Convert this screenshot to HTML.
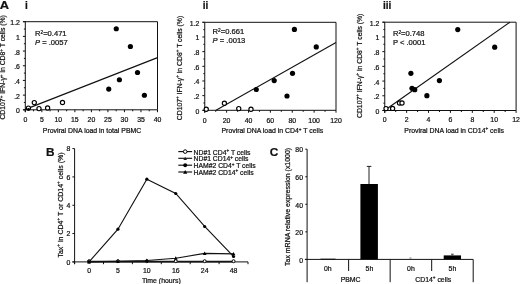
<!DOCTYPE html>
<html><head><meta charset="utf-8"><style>
html,body{margin:0;padding:0;background:#fff;width:520px;height:284px;overflow:hidden}
svg{display:block;filter:grayscale(1)}
text{font-family:"Liberation Sans",sans-serif;fill:#111;stroke:#111;stroke-width:0.22px}
</style></head><body>
<svg width="520" height="284" viewBox="0 0 520 284">
<rect width="520" height="284" fill="#fff"/>
<line x1="23.10" y1="21.70" x2="157.50" y2="21.70" stroke="#111" stroke-width="1.0"/>
<line x1="157.50" y1="21.70" x2="157.50" y2="109.80" stroke="#111" stroke-width="1.0"/>
<line x1="25.30" y1="21.70" x2="25.30" y2="112.10" stroke="#111" stroke-width="1.0"/>
<line x1="23.10" y1="109.80" x2="157.50" y2="109.80" stroke="#111" stroke-width="1.0"/>
<line x1="22.90" y1="109.80" x2="25.30" y2="109.80" stroke="#111" stroke-width="1.0"/>
<line x1="23.90" y1="102.46" x2="25.30" y2="102.46" stroke="#111" stroke-width="1.0"/>
<line x1="22.90" y1="95.12" x2="25.30" y2="95.12" stroke="#111" stroke-width="1.0"/>
<line x1="23.90" y1="87.78" x2="25.30" y2="87.78" stroke="#111" stroke-width="1.0"/>
<line x1="22.90" y1="80.43" x2="25.30" y2="80.43" stroke="#111" stroke-width="1.0"/>
<line x1="23.90" y1="73.09" x2="25.30" y2="73.09" stroke="#111" stroke-width="1.0"/>
<line x1="22.90" y1="65.75" x2="25.30" y2="65.75" stroke="#111" stroke-width="1.0"/>
<line x1="23.90" y1="58.41" x2="25.30" y2="58.41" stroke="#111" stroke-width="1.0"/>
<line x1="22.90" y1="51.07" x2="25.30" y2="51.07" stroke="#111" stroke-width="1.0"/>
<line x1="23.90" y1="43.72" x2="25.30" y2="43.72" stroke="#111" stroke-width="1.0"/>
<line x1="22.90" y1="36.38" x2="25.30" y2="36.38" stroke="#111" stroke-width="1.0"/>
<line x1="23.90" y1="29.04" x2="25.30" y2="29.04" stroke="#111" stroke-width="1.0"/>
<line x1="22.90" y1="21.70" x2="25.30" y2="21.70" stroke="#111" stroke-width="1.0"/>
<text x="19.90" y="113.30" font-size="6.9" text-anchor="end" >0</text>
<text x="19.90" y="98.62" font-size="6.9" text-anchor="end" >.2</text>
<text x="19.90" y="83.93" font-size="6.9" text-anchor="end" >.4</text>
<text x="19.90" y="69.25" font-size="6.9" text-anchor="end" >.6</text>
<text x="19.90" y="54.57" font-size="6.9" text-anchor="end" >.8</text>
<text x="19.90" y="39.88" font-size="6.9" text-anchor="end" >1</text>
<text x="19.90" y="25.20" font-size="6.9" text-anchor="end" >1.2</text>
<line x1="25.30" y1="109.80" x2="25.30" y2="112.20" stroke="#111" stroke-width="1.0"/>
<text x="25.30" y="121.80" font-size="6.9" text-anchor="middle" >0</text>
<line x1="33.56" y1="109.80" x2="33.56" y2="111.30" stroke="#111" stroke-width="1.0"/>
<line x1="41.83" y1="109.80" x2="41.83" y2="112.20" stroke="#111" stroke-width="1.0"/>
<text x="41.83" y="121.80" font-size="6.9" text-anchor="middle" >5</text>
<line x1="50.09" y1="109.80" x2="50.09" y2="111.30" stroke="#111" stroke-width="1.0"/>
<line x1="58.35" y1="109.80" x2="58.35" y2="112.20" stroke="#111" stroke-width="1.0"/>
<text x="58.35" y="121.80" font-size="6.9" text-anchor="middle" >10</text>
<line x1="66.61" y1="109.80" x2="66.61" y2="111.30" stroke="#111" stroke-width="1.0"/>
<line x1="74.88" y1="109.80" x2="74.88" y2="112.20" stroke="#111" stroke-width="1.0"/>
<text x="74.88" y="121.80" font-size="6.9" text-anchor="middle" >15</text>
<line x1="83.14" y1="109.80" x2="83.14" y2="111.30" stroke="#111" stroke-width="1.0"/>
<line x1="91.40" y1="109.80" x2="91.40" y2="112.20" stroke="#111" stroke-width="1.0"/>
<text x="91.40" y="121.80" font-size="6.9" text-anchor="middle" >20</text>
<line x1="99.66" y1="109.80" x2="99.66" y2="111.30" stroke="#111" stroke-width="1.0"/>
<line x1="107.92" y1="109.80" x2="107.92" y2="112.20" stroke="#111" stroke-width="1.0"/>
<text x="107.92" y="121.80" font-size="6.9" text-anchor="middle" >25</text>
<line x1="116.19" y1="109.80" x2="116.19" y2="111.30" stroke="#111" stroke-width="1.0"/>
<line x1="124.45" y1="109.80" x2="124.45" y2="112.20" stroke="#111" stroke-width="1.0"/>
<text x="124.45" y="121.80" font-size="6.9" text-anchor="middle" >30</text>
<line x1="132.71" y1="109.80" x2="132.71" y2="111.30" stroke="#111" stroke-width="1.0"/>
<line x1="140.97" y1="109.80" x2="140.97" y2="112.20" stroke="#111" stroke-width="1.0"/>
<text x="140.97" y="121.80" font-size="6.9" text-anchor="middle" >35</text>
<line x1="149.24" y1="109.80" x2="149.24" y2="111.30" stroke="#111" stroke-width="1.0"/>
<line x1="157.50" y1="109.80" x2="157.50" y2="112.20" stroke="#111" stroke-width="1.0"/>
<text x="157.50" y="121.80" font-size="6.9" text-anchor="middle" >40</text>
<text x="92.00" y="132.70" font-size="6.9" text-anchor="middle" >Proviral DNA load in total PBMC</text>
<line x1="25.30" y1="109.40" x2="157.50" y2="57.60" stroke="#111" stroke-width="1.15"/>
<circle cx="34.30" cy="102.60" r="2.1" fill="#fff" stroke="#000" stroke-width="1.15"/>
<circle cx="39.00" cy="108.60" r="2.1" fill="#fff" stroke="#000" stroke-width="1.15"/>
<circle cx="47.60" cy="108.00" r="2.1" fill="#fff" stroke="#000" stroke-width="1.15"/>
<circle cx="62.50" cy="102.50" r="2.1" fill="#fff" stroke="#000" stroke-width="1.15"/>
<circle cx="28.40" cy="108.10" r="2.1" fill="#fff" stroke="#000" stroke-width="1.15"/>
<circle cx="116.25" cy="28.75" r="2.6" fill="#000"/>
<circle cx="130.40" cy="46.50" r="2.6" fill="#000"/>
<circle cx="137.50" cy="72.50" r="2.6" fill="#000"/>
<circle cx="119.40" cy="79.75" r="2.6" fill="#000"/>
<circle cx="108.75" cy="89.10" r="2.6" fill="#000"/>
<circle cx="144.40" cy="95.25" r="2.6" fill="#000"/>
<circle cx="28.50" cy="109.30" r="1.4" fill="#000"/>
<text x="35.00" y="35.60" font-size="7.6" text-anchor="start" >R<tspan dy="-2.0" font-size="4.8">2</tspan><tspan dy="2.0">=0.471</tspan></text>
<text x="35.00" y="44.50" font-size="7.6" text-anchor="start" ><tspan font-style="italic">P</tspan> = .0057</text>
<text transform="translate(5.20,67.40) rotate(-90)" font-size="6.82" text-anchor="middle">CD107<tspan dy="-2.6" font-size="4.6">+</tspan><tspan dy="2.6"> IFN-γ</tspan><tspan dy="-2.6" font-size="4.6">+</tspan><tspan dy="2.6"> in CD8</tspan><tspan dy="-2.6" font-size="4.6">+</tspan><tspan dy="2.6"> T cells (%)</tspan></text>
<line x1="202.55" y1="22.30" x2="336.00" y2="22.30" stroke="#111" stroke-width="1.0"/>
<line x1="336.00" y1="22.30" x2="336.00" y2="110.30" stroke="#111" stroke-width="1.0"/>
<line x1="204.75" y1="22.30" x2="204.75" y2="112.60" stroke="#111" stroke-width="1.0"/>
<line x1="202.55" y1="110.30" x2="336.00" y2="110.30" stroke="#111" stroke-width="1.0"/>
<line x1="202.35" y1="110.30" x2="204.75" y2="110.30" stroke="#111" stroke-width="1.0"/>
<line x1="203.35" y1="102.97" x2="204.75" y2="102.97" stroke="#111" stroke-width="1.0"/>
<line x1="202.35" y1="95.63" x2="204.75" y2="95.63" stroke="#111" stroke-width="1.0"/>
<line x1="203.35" y1="88.30" x2="204.75" y2="88.30" stroke="#111" stroke-width="1.0"/>
<line x1="202.35" y1="80.97" x2="204.75" y2="80.97" stroke="#111" stroke-width="1.0"/>
<line x1="203.35" y1="73.63" x2="204.75" y2="73.63" stroke="#111" stroke-width="1.0"/>
<line x1="202.35" y1="66.30" x2="204.75" y2="66.30" stroke="#111" stroke-width="1.0"/>
<line x1="203.35" y1="58.97" x2="204.75" y2="58.97" stroke="#111" stroke-width="1.0"/>
<line x1="202.35" y1="51.63" x2="204.75" y2="51.63" stroke="#111" stroke-width="1.0"/>
<line x1="203.35" y1="44.30" x2="204.75" y2="44.30" stroke="#111" stroke-width="1.0"/>
<line x1="202.35" y1="36.97" x2="204.75" y2="36.97" stroke="#111" stroke-width="1.0"/>
<line x1="203.35" y1="29.63" x2="204.75" y2="29.63" stroke="#111" stroke-width="1.0"/>
<line x1="202.35" y1="22.30" x2="204.75" y2="22.30" stroke="#111" stroke-width="1.0"/>
<text x="199.40" y="113.80" font-size="6.9" text-anchor="end" >0</text>
<text x="199.40" y="99.13" font-size="6.9" text-anchor="end" >.2</text>
<text x="199.40" y="84.47" font-size="6.9" text-anchor="end" >.4</text>
<text x="199.40" y="69.80" font-size="6.9" text-anchor="end" >.6</text>
<text x="199.40" y="55.13" font-size="6.9" text-anchor="end" >.8</text>
<text x="199.40" y="40.47" font-size="6.9" text-anchor="end" >1</text>
<text x="199.40" y="25.80" font-size="6.9" text-anchor="end" >1.2</text>
<line x1="204.75" y1="110.30" x2="204.75" y2="112.70" stroke="#111" stroke-width="1.0"/>
<text x="204.75" y="122.70" font-size="6.9" text-anchor="middle" >0</text>
<line x1="215.69" y1="110.30" x2="215.69" y2="111.80" stroke="#111" stroke-width="1.0"/>
<line x1="226.62" y1="110.30" x2="226.62" y2="112.70" stroke="#111" stroke-width="1.0"/>
<text x="226.62" y="122.70" font-size="6.9" text-anchor="middle" >20</text>
<line x1="237.56" y1="110.30" x2="237.56" y2="111.80" stroke="#111" stroke-width="1.0"/>
<line x1="248.50" y1="110.30" x2="248.50" y2="112.70" stroke="#111" stroke-width="1.0"/>
<text x="248.50" y="122.70" font-size="6.9" text-anchor="middle" >40</text>
<line x1="259.44" y1="110.30" x2="259.44" y2="111.80" stroke="#111" stroke-width="1.0"/>
<line x1="270.38" y1="110.30" x2="270.38" y2="112.70" stroke="#111" stroke-width="1.0"/>
<text x="270.38" y="122.70" font-size="6.9" text-anchor="middle" >60</text>
<line x1="281.31" y1="110.30" x2="281.31" y2="111.80" stroke="#111" stroke-width="1.0"/>
<line x1="292.25" y1="110.30" x2="292.25" y2="112.70" stroke="#111" stroke-width="1.0"/>
<text x="292.25" y="122.70" font-size="6.9" text-anchor="middle" >80</text>
<line x1="303.19" y1="110.30" x2="303.19" y2="111.80" stroke="#111" stroke-width="1.0"/>
<line x1="314.12" y1="110.30" x2="314.12" y2="112.70" stroke="#111" stroke-width="1.0"/>
<text x="314.12" y="122.70" font-size="6.9" text-anchor="middle" >100</text>
<line x1="325.06" y1="110.30" x2="325.06" y2="111.80" stroke="#111" stroke-width="1.0"/>
<line x1="336.00" y1="110.30" x2="336.00" y2="112.70" stroke="#111" stroke-width="1.0"/>
<text x="336.00" y="122.70" font-size="6.9" text-anchor="middle" >120</text>
<text x="272.30" y="133.20" font-size="6.9" text-anchor="middle" >Proviral DNA load in CD4<tspan dy="-2.6" font-size="4.6">+</tspan><tspan dy="2.6"> T cells</tspan></text>
<line x1="216.00" y1="110.30" x2="336.00" y2="42.50" stroke="#111" stroke-width="1.15"/>
<circle cx="206.25" cy="109.25" r="2.1" fill="#fff" stroke="#000" stroke-width="1.15"/>
<circle cx="224.40" cy="103.25" r="2.1" fill="#fff" stroke="#000" stroke-width="1.15"/>
<circle cx="238.75" cy="108.60" r="2.1" fill="#fff" stroke="#000" stroke-width="1.15"/>
<circle cx="251.00" cy="109.25" r="2.1" fill="#fff" stroke="#000" stroke-width="1.15"/>
<circle cx="294.40" cy="29.40" r="2.6" fill="#000"/>
<circle cx="316.25" cy="46.90" r="2.6" fill="#000"/>
<circle cx="274.20" cy="80.60" r="2.6" fill="#000"/>
<circle cx="292.50" cy="73.30" r="2.6" fill="#000"/>
<circle cx="287.00" cy="96.00" r="2.6" fill="#000"/>
<circle cx="256.25" cy="89.50" r="2.6" fill="#000"/>
<text x="212.60" y="33.90" font-size="7.6" text-anchor="start" >R<tspan dy="-2.0" font-size="4.8">2</tspan><tspan dy="2.0">=0.661</tspan></text>
<text x="212.60" y="42.80" font-size="7.6" text-anchor="start" ><tspan font-style="italic">P</tspan> = .0013</text>
<text transform="translate(181.80,68.00) rotate(-90)" font-size="6.82" text-anchor="middle">CD107<tspan dy="-2.6" font-size="4.6">+</tspan><tspan dy="2.6"> IFN-γ</tspan><tspan dy="-2.6" font-size="4.6">+</tspan><tspan dy="2.6"> in CD8</tspan><tspan dy="-2.6" font-size="4.6">+</tspan><tspan dy="2.6"> T cells (%)</tspan></text>
<line x1="382.55" y1="22.20" x2="516.10" y2="22.20" stroke="#111" stroke-width="1.0"/>
<line x1="516.10" y1="22.20" x2="516.10" y2="110.50" stroke="#111" stroke-width="1.0"/>
<line x1="384.75" y1="22.20" x2="384.75" y2="112.80" stroke="#111" stroke-width="1.0"/>
<line x1="382.55" y1="110.50" x2="516.10" y2="110.50" stroke="#111" stroke-width="1.0"/>
<line x1="382.35" y1="110.50" x2="384.75" y2="110.50" stroke="#111" stroke-width="1.0"/>
<line x1="383.35" y1="103.14" x2="384.75" y2="103.14" stroke="#111" stroke-width="1.0"/>
<line x1="382.35" y1="95.78" x2="384.75" y2="95.78" stroke="#111" stroke-width="1.0"/>
<line x1="383.35" y1="88.42" x2="384.75" y2="88.42" stroke="#111" stroke-width="1.0"/>
<line x1="382.35" y1="81.07" x2="384.75" y2="81.07" stroke="#111" stroke-width="1.0"/>
<line x1="383.35" y1="73.71" x2="384.75" y2="73.71" stroke="#111" stroke-width="1.0"/>
<line x1="382.35" y1="66.35" x2="384.75" y2="66.35" stroke="#111" stroke-width="1.0"/>
<line x1="383.35" y1="58.99" x2="384.75" y2="58.99" stroke="#111" stroke-width="1.0"/>
<line x1="382.35" y1="51.63" x2="384.75" y2="51.63" stroke="#111" stroke-width="1.0"/>
<line x1="383.35" y1="44.28" x2="384.75" y2="44.28" stroke="#111" stroke-width="1.0"/>
<line x1="382.35" y1="36.92" x2="384.75" y2="36.92" stroke="#111" stroke-width="1.0"/>
<line x1="383.35" y1="29.56" x2="384.75" y2="29.56" stroke="#111" stroke-width="1.0"/>
<line x1="382.35" y1="22.20" x2="384.75" y2="22.20" stroke="#111" stroke-width="1.0"/>
<text x="379.40" y="114.00" font-size="6.9" text-anchor="end" >0</text>
<text x="379.40" y="99.28" font-size="6.9" text-anchor="end" >.2</text>
<text x="379.40" y="84.57" font-size="6.9" text-anchor="end" >.4</text>
<text x="379.40" y="69.85" font-size="6.9" text-anchor="end" >.6</text>
<text x="379.40" y="55.13" font-size="6.9" text-anchor="end" >.8</text>
<text x="379.40" y="40.42" font-size="6.9" text-anchor="end" >1</text>
<text x="379.40" y="25.70" font-size="6.9" text-anchor="end" >1.2</text>
<line x1="384.75" y1="110.50" x2="384.75" y2="112.90" stroke="#111" stroke-width="1.0"/>
<text x="384.75" y="121.80" font-size="6.9" text-anchor="middle" >0</text>
<line x1="395.70" y1="110.50" x2="395.70" y2="112.00" stroke="#111" stroke-width="1.0"/>
<line x1="406.64" y1="110.50" x2="406.64" y2="112.90" stroke="#111" stroke-width="1.0"/>
<text x="406.64" y="121.80" font-size="6.9" text-anchor="middle" >2</text>
<line x1="417.59" y1="110.50" x2="417.59" y2="112.00" stroke="#111" stroke-width="1.0"/>
<line x1="428.53" y1="110.50" x2="428.53" y2="112.90" stroke="#111" stroke-width="1.0"/>
<text x="428.53" y="121.80" font-size="6.9" text-anchor="middle" >4</text>
<line x1="439.48" y1="110.50" x2="439.48" y2="112.00" stroke="#111" stroke-width="1.0"/>
<line x1="450.43" y1="110.50" x2="450.43" y2="112.90" stroke="#111" stroke-width="1.0"/>
<text x="450.43" y="121.80" font-size="6.9" text-anchor="middle" >6</text>
<line x1="461.37" y1="110.50" x2="461.37" y2="112.00" stroke="#111" stroke-width="1.0"/>
<line x1="472.32" y1="110.50" x2="472.32" y2="112.90" stroke="#111" stroke-width="1.0"/>
<text x="472.32" y="121.80" font-size="6.9" text-anchor="middle" >8</text>
<line x1="483.26" y1="110.50" x2="483.26" y2="112.00" stroke="#111" stroke-width="1.0"/>
<line x1="494.21" y1="110.50" x2="494.21" y2="112.90" stroke="#111" stroke-width="1.0"/>
<text x="494.21" y="121.80" font-size="6.9" text-anchor="middle" >10</text>
<line x1="505.15" y1="110.50" x2="505.15" y2="112.00" stroke="#111" stroke-width="1.0"/>
<line x1="516.10" y1="110.50" x2="516.10" y2="112.90" stroke="#111" stroke-width="1.0"/>
<text x="516.10" y="121.80" font-size="6.9" text-anchor="middle" >12</text>
<text x="454.10" y="132.90" font-size="6.9" text-anchor="middle" >Proviral DNA load in CD14<tspan dy="-2.6" font-size="4.6">+</tspan><tspan dy="2.6"> cells</tspan></text>
<line x1="384.75" y1="110.30" x2="509.90" y2="22.20" stroke="#111" stroke-width="1.15"/>
<circle cx="392.60" cy="108.40" r="2.1" fill="#fff" stroke="#000" stroke-width="1.15"/>
<circle cx="399.50" cy="103.00" r="2.1" fill="#fff" stroke="#000" stroke-width="1.15"/>
<circle cx="402.00" cy="103.00" r="2.1" fill="#fff" stroke="#000" stroke-width="1.15"/>
<circle cx="386.00" cy="108.60" r="2.1" fill="#fff" stroke="#000" stroke-width="1.15"/>
<circle cx="457.75" cy="29.60" r="2.6" fill="#000"/>
<circle cx="494.70" cy="47.20" r="2.6" fill="#000"/>
<circle cx="410.90" cy="73.30" r="2.6" fill="#000"/>
<circle cx="412.00" cy="88.30" r="2.6" fill="#000"/>
<circle cx="414.75" cy="89.70" r="2.6" fill="#000"/>
<circle cx="426.90" cy="95.70" r="2.6" fill="#000"/>
<circle cx="439.40" cy="80.60" r="2.6" fill="#000"/>
<text x="392.90" y="35.70" font-size="7.6" text-anchor="start" >R<tspan dy="-2.0" font-size="4.8">2</tspan><tspan dy="2.0">=0.748</tspan></text>
<text x="392.90" y="44.60" font-size="7.6" text-anchor="start" >P &lt; .0001</text>
<text transform="translate(361.70,65.80) rotate(-90)" font-size="6.82" text-anchor="middle">CD107<tspan dy="-2.6" font-size="4.6">+</tspan><tspan dy="2.6"> IFN-γ</tspan><tspan dy="-2.6" font-size="4.6">+</tspan><tspan dy="2.6"> in CD8</tspan><tspan dy="-2.6" font-size="4.6">+</tspan><tspan dy="2.6"> T cells (%)</tspan></text>
<text x="45.90" y="155.60" font-size="11.8" text-anchor="start" font-weight="bold">B</text>
<line x1="74.60" y1="148.60" x2="74.60" y2="264.10" stroke="#111" stroke-width="1.0"/>
<line x1="72.40" y1="261.90" x2="248.00" y2="261.90" stroke="#111" stroke-width="1.0"/>
<line x1="72.40" y1="261.90" x2="74.60" y2="261.90" stroke="#111" stroke-width="1.0"/>
<text x="70.40" y="264.50" font-size="6.9" text-anchor="end" >0</text>
<line x1="72.40" y1="233.57" x2="74.60" y2="233.57" stroke="#111" stroke-width="1.0"/>
<text x="70.40" y="236.17" font-size="6.9" text-anchor="end" >2</text>
<line x1="72.40" y1="205.25" x2="74.60" y2="205.25" stroke="#111" stroke-width="1.0"/>
<text x="70.40" y="207.85" font-size="6.9" text-anchor="end" >4</text>
<line x1="72.40" y1="176.92" x2="74.60" y2="176.92" stroke="#111" stroke-width="1.0"/>
<text x="70.40" y="179.52" font-size="6.9" text-anchor="end" >6</text>
<line x1="72.40" y1="148.60" x2="74.60" y2="148.60" stroke="#111" stroke-width="1.0"/>
<text x="70.40" y="151.20" font-size="6.9" text-anchor="end" >8</text>
<line x1="74.60" y1="261.90" x2="74.60" y2="264.20" stroke="#111" stroke-width="1.0"/>
<line x1="103.50" y1="261.90" x2="103.50" y2="264.20" stroke="#111" stroke-width="1.0"/>
<line x1="132.40" y1="261.90" x2="132.40" y2="264.20" stroke="#111" stroke-width="1.0"/>
<line x1="161.30" y1="261.90" x2="161.30" y2="264.20" stroke="#111" stroke-width="1.0"/>
<line x1="190.20" y1="261.90" x2="190.20" y2="264.20" stroke="#111" stroke-width="1.0"/>
<line x1="219.10" y1="261.90" x2="219.10" y2="264.20" stroke="#111" stroke-width="1.0"/>
<line x1="248.00" y1="261.90" x2="248.00" y2="264.20" stroke="#111" stroke-width="1.0"/>
<text x="89.05" y="272.80" font-size="6.9" text-anchor="middle" >0</text>
<text x="117.95" y="272.80" font-size="6.9" text-anchor="middle" >5</text>
<text x="146.85" y="272.80" font-size="6.9" text-anchor="middle" >10</text>
<text x="175.75" y="272.80" font-size="6.9" text-anchor="middle" >16</text>
<text x="204.65" y="272.80" font-size="6.9" text-anchor="middle" >24</text>
<text x="233.55" y="272.80" font-size="6.9" text-anchor="middle" >48</text>
<text x="161.30" y="282.60" font-size="6.9" text-anchor="middle" >Time (hours)</text>
<polyline points="89.05,261.90 117.95,261.90 146.85,261.90 175.75,261.90 204.65,261.90 233.55,261.90" fill="none" stroke="#111" stroke-width="1.12"/>
<polyline points="89.05,261.19 117.95,261.19 146.85,261.19 175.75,261.19 204.65,261.19 233.55,261.19" fill="none" stroke="#111" stroke-width="1.12"/>
<polyline points="89.05,261.90 117.95,261.19 146.85,260.48 175.75,258.22 204.65,253.40 233.55,253.83" fill="none" stroke="#111" stroke-width="1.12"/>
<polyline points="89.05,261.90 117.95,229.18 146.85,179.19 175.75,193.50 204.65,226.49 233.55,256.52" fill="none" stroke="#111" stroke-width="1.12"/>
<circle cx="89.05" cy="261.19" r="1.5" fill="#fff" stroke="#000" stroke-width="1.0"/>
<circle cx="117.95" cy="261.19" r="1.5" fill="#fff" stroke="#000" stroke-width="1.0"/>
<circle cx="146.85" cy="261.19" r="1.5" fill="#fff" stroke="#000" stroke-width="1.0"/>
<circle cx="175.75" cy="261.19" r="1.5" fill="#fff" stroke="#000" stroke-width="1.0"/>
<circle cx="204.65" cy="261.19" r="1.5" fill="#fff" stroke="#000" stroke-width="1.0"/>
<circle cx="233.55" cy="261.19" r="1.5" fill="#fff" stroke="#000" stroke-width="1.0"/>
<path d="M89.05,260.00 L90.95,263.42 L87.15,263.42 Z" fill="#000"/>
<path d="M117.95,259.29 L119.85,262.71 L116.05,262.71 Z" fill="#000"/>
<path d="M146.85,258.58 L148.75,262.00 L144.95,262.00 Z" fill="#000"/>
<path d="M175.75,256.32 L177.65,259.74 L173.85,259.74 Z" fill="#000"/>
<path d="M204.65,251.50 L206.55,254.92 L202.75,254.92 Z" fill="#000"/>
<path d="M233.55,251.93 L235.45,255.35 L231.65,255.35 Z" fill="#000"/>
<circle cx="89.05" cy="261.90" r="1.6" fill="#000"/>
<circle cx="117.95" cy="229.18" r="1.6" fill="#000"/>
<circle cx="146.85" cy="179.19" r="1.6" fill="#000"/>
<circle cx="175.75" cy="193.50" r="1.6" fill="#000"/>
<circle cx="204.65" cy="226.49" r="1.6" fill="#000"/>
<circle cx="233.55" cy="256.52" r="1.6" fill="#000"/>
<line x1="178.30" y1="151.60" x2="192.10" y2="151.60" stroke="#111" stroke-width="1.15"/>
<circle cx="185.20" cy="151.60" r="1.8" fill="#fff" stroke="#000" stroke-width="1.0"/>
<text x="193.60" y="154.60" font-size="6.8" text-anchor="start" >ND#1 CD4<tspan dy="-2.6" font-size="4.6">+</tspan><tspan dy="2.6"> T cells</tspan></text>
<line x1="178.30" y1="158.30" x2="192.10" y2="158.30" stroke="#111" stroke-width="1.15"/>
<path d="M185.20,156.80 L187.00,160.04 L183.40,160.04 Z" fill="#222"/>
<text x="193.60" y="161.30" font-size="6.8" text-anchor="start" >ND#1 CD14<tspan dy="-2.6" font-size="4.6">+</tspan><tspan dy="2.6"> cells</tspan></text>
<line x1="178.30" y1="165.20" x2="192.10" y2="165.20" stroke="#111" stroke-width="1.15"/>
<circle cx="185.20" cy="165.20" r="1.95" fill="#000"/>
<text x="193.60" y="168.20" font-size="6.8" text-anchor="start" >HAM#2 CD4<tspan dy="-2.6" font-size="4.6">+</tspan><tspan dy="2.6"> T cells</tspan></text>
<line x1="178.30" y1="172.00" x2="192.10" y2="172.00" stroke="#111" stroke-width="1.15"/>
<path d="M185.20,170.00 L187.30,173.78 L183.10,173.78 Z" fill="#000"/>
<text x="193.60" y="175.00" font-size="6.8" text-anchor="start" >HAM#2 CD14<tspan dy="-2.6" font-size="4.6">+</tspan><tspan dy="2.6"> cells</tspan></text>
<text transform="translate(62.60,205.00) rotate(-90)" font-size="7.0" text-anchor="middle">Tax<tspan dy="-2.6" font-size="4.6">+</tspan><tspan dy="2.6"> in CD4</tspan><tspan dy="-2.6" font-size="4.6">+</tspan><tspan dy="2.6"> T or CD14</tspan><tspan dy="-2.6" font-size="4.6">+</tspan><tspan dy="2.6"> cells (%)</tspan></text>
<text x="269.70" y="155.70" font-size="11.8" text-anchor="start" font-weight="bold">C</text>
<line x1="307.10" y1="149.20" x2="307.10" y2="282.20" stroke="#111" stroke-width="1.0"/>
<line x1="304.90" y1="259.40" x2="473.20" y2="259.40" stroke="#111" stroke-width="1.0"/>
<line x1="305.30" y1="259.40" x2="307.10" y2="259.40" stroke="#111" stroke-width="1.0"/>
<text x="303.00" y="262.60" font-size="6.9" text-anchor="end" >0</text>
<line x1="305.30" y1="231.85" x2="307.10" y2="231.85" stroke="#111" stroke-width="1.0"/>
<text x="303.00" y="235.05" font-size="6.9" text-anchor="end" >20</text>
<line x1="305.30" y1="204.30" x2="307.10" y2="204.30" stroke="#111" stroke-width="1.0"/>
<text x="303.00" y="207.50" font-size="6.9" text-anchor="end" >40</text>
<line x1="305.30" y1="176.75" x2="307.10" y2="176.75" stroke="#111" stroke-width="1.0"/>
<text x="303.00" y="179.95" font-size="6.9" text-anchor="end" >60</text>
<line x1="305.30" y1="149.20" x2="307.10" y2="149.20" stroke="#111" stroke-width="1.0"/>
<text x="303.00" y="152.40" font-size="6.9" text-anchor="end" >80</text>
<line x1="348.62" y1="259.40" x2="348.62" y2="271.00" stroke="#111" stroke-width="1.0"/>
<line x1="390.15" y1="259.40" x2="390.15" y2="282.20" stroke="#111" stroke-width="1.0"/>
<line x1="431.68" y1="259.40" x2="431.68" y2="271.00" stroke="#111" stroke-width="1.0"/>
<line x1="473.20" y1="259.40" x2="473.20" y2="282.20" stroke="#111" stroke-width="1.0"/>
<text x="327.86" y="270.80" font-size="6.9" text-anchor="middle" >0h</text>
<text x="369.39" y="270.80" font-size="6.9" text-anchor="middle" >5h</text>
<text x="410.91" y="270.80" font-size="6.9" text-anchor="middle" >0h</text>
<text x="452.44" y="270.80" font-size="6.9" text-anchor="middle" >5h</text>
<text x="350.60" y="281.50" font-size="6.9" text-anchor="middle" >PBMC</text>
<text x="433.20" y="281.50" font-size="6.9" text-anchor="middle" >CD14<tspan dy="-2.6" font-size="4.6">+</tspan><tspan dy="2.6"> cells</tspan></text>
<rect x="360.4" y="184.0" width="17.5" height="75.39999999999998" fill="#000"/>
<rect x="320.5" y="258.7" width="15.0" height="0.6999999999999886" fill="#000"/>
<line x1="409.50" y1="258.00" x2="411.50" y2="258.00" stroke="#555" stroke-width="0.8"/>
<line x1="369.00" y1="184.00" x2="369.00" y2="166.40" stroke="#222" stroke-width="1.0"/>
<line x1="366.80" y1="166.40" x2="371.40" y2="166.40" stroke="#222" stroke-width="1.0"/>
<rect x="443.7" y="255.4" width="17.30000000000001" height="3.9999999999999716" fill="#000"/>
<line x1="452.35" y1="255.40" x2="452.35" y2="254.20" stroke="#333" stroke-width="0.9"/>
<line x1="451.00" y1="254.20" x2="453.70" y2="254.20" stroke="#333" stroke-width="0.9"/>
<text transform="translate(289.60,206.90) rotate(-90)" font-size="6.95" text-anchor="middle">Tax mRNA relative expression (x1000)</text>
<text transform="translate(-0.2,8.9) scale(1.14,1)" font-size="11.3" font-weight="bold">A</text>
<text x="25.00" y="9.10" font-size="10.0" text-anchor="start" font-weight="bold">i</text>
<text x="202.70" y="9.10" font-size="10.0" text-anchor="start" font-weight="bold">ii</text>
<text x="382.90" y="9.10" font-size="10.0" text-anchor="start" font-weight="bold">iii</text>
</svg></body></html>
